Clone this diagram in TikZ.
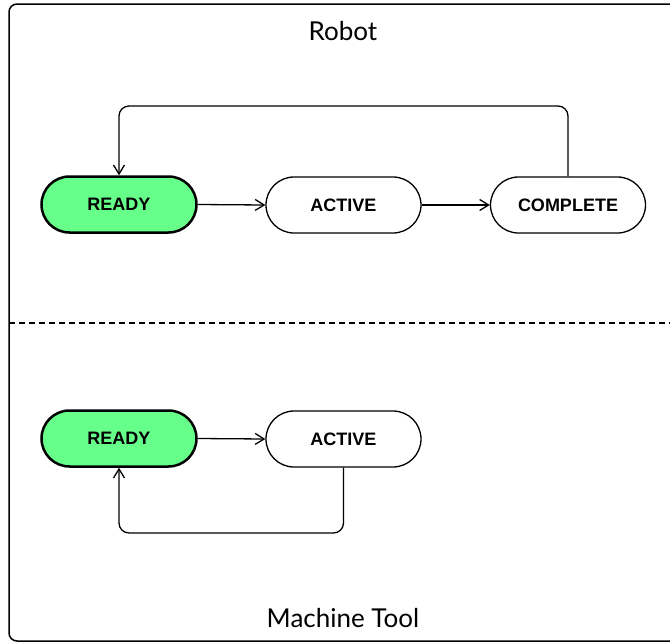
\documentclass[tikz,border=0pt]{standalone}
\usepackage{fontspec}
\setmainfont{Liberation Sans}
\newfontfamily\titlefont{Lato}
\usetikzlibrary{arrows.meta,positioning}
\begin{document}
\begin{tikzpicture}[x=1pt,y=-1pt,
  state/.style={draw=black,line width=1.3pt,rounded corners=28pt,minimum width=155pt,minimum height=56pt,inner sep=0pt,font=\fontsize{18}{20}\selectfont\bfseries,fill=white},
  initstate/.style={state,fill=ready,line width=2.5pt},
  conn/.style={line width=1.3pt,-{Straight Barb[length=9pt,width=11pt,line width=1.3pt]}},
  loopconn/.style={conn,rounded corners=10pt},
  title/.style={font=\titlefont\fontsize{26}{30}\selectfont}
]
\definecolor{ready}{HTML}{66FF8A}
\useasboundingbox (0,0) rectangle (670,643);
\draw[line width=1.5pt,rounded corners=8pt] (9,4) rectangle (690,641);
\draw[line width=1.3pt,dash pattern=on 6pt off 4pt] (9,323) -- (670,323);
\node[title] (robot) at (343,31) {Robot};
\node[title] (machine) at (343,618) {Machine Tool};
% Robot
\node[initstate] (rready) at (119,204.5) {READY};
\node[state] (ractive) at (343.5,205) {ACTIVE};
\node[state] (rcomplete) at (568,205) {COMPLETE};
\draw[conn] (rready.east) -- (ractive.west);
\draw[conn] (ractive.east) -- (rcomplete.west);
\draw[loopconn] (rcomplete.north) -- (568,106) -- (119,106) -- (rready.north);
% Machine Tool
\node[initstate] (mready) at (119,438.5) {READY};
\node[state] (mactive) at (343.5,439) {ACTIVE};
\draw[conn] (mready.east) -- (mactive.west);
\draw[loopconn] (mactive.south) -- (343.5,533) -- (119,533) -- (mready.south);
\end{tikzpicture}
\end{document}
